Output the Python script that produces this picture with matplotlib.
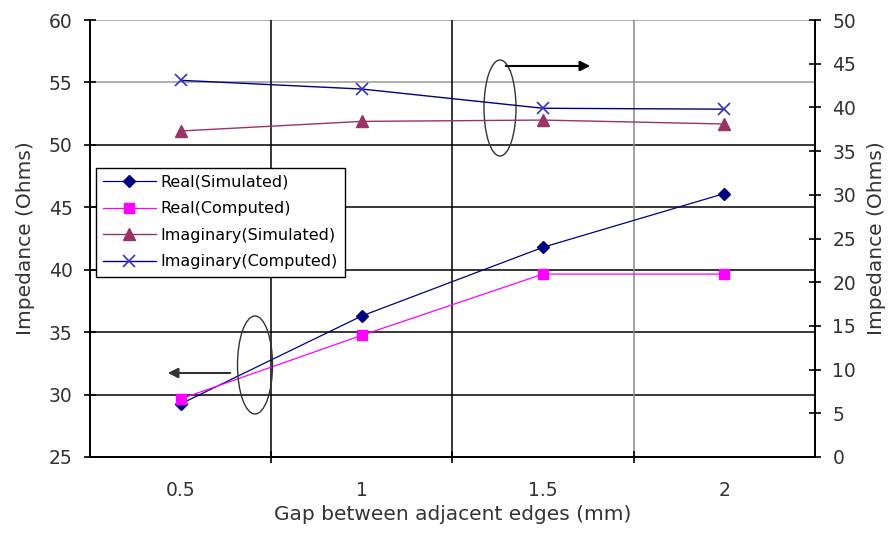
import numpy as np
import matplotlib
matplotlib.use("Agg")
import matplotlib.pyplot as plt
from matplotlib.patches import Ellipse
from matplotlib.lines import Line2D

plt.rcParams["font.family"] = ["DejaVu Sans"]

gaps = ["0.5", "1", "1.5", "2"]
real_sim = [29.25, 36.3, 41.8, 46.1]
real_comp = [29.65, 34.75, 39.65, 39.65]
imag_sim = [37.3, 38.4, 38.55, 38.1]
imag_comp = [43.1, 42.1, 39.9, 39.8]

x = np.arange(len(gaps))

fig = plt.figure(figsize=(8.92, 5.35), dpi=100)
ax = fig.add_axes((90 / 892, 1 - 457 / 535, 725 / 892, 437 / 535))
ax2 = ax.twinx()

# grid: horizontal at left ticks, vertical between categories
ax.set_ylim(25, 60)
ax.set_yticks(np.arange(25, 61, 5))
ax.set_xlim(-0.5, len(gaps) - 0.5)
ax.set_xticks(x)
ax.set_xticklabels(gaps)
ax.set_xticks(x[:-1] + 0.5, minor=True)
for yv in np.arange(30, 61, 5):
    c = "#999999" if yv >= 55 else "black"
    ax.axhline(yv, color=c, lw=1.1, zorder=0)
for i, xv in enumerate(x[:-1] + 0.5):
    c = "#888888" if i == 2 else "black"
    ax.axvline(xv, color=c, lw=1.1, zorder=0)

ax.plot(x, real_sim, color="#000080", lw=0.9, marker="D", ms=6,
        mfc="#000080", mec="#000080", zorder=3)
ax.plot(x, real_comp, color="#FF00FF", lw=0.9, marker="s", ms=7,
        mfc="#FF00FF", mec="#FF00FF", zorder=3)

ax2.set_ylim(0, 50)
ax2.set_yticks(np.arange(0, 51, 5))
ax2.plot(x, imag_sim, color="#993366", lw=1.0, marker="^", ms=8,
         mfc="#993366", mec="#993366", zorder=3)
ax2.plot(x, imag_comp, color="#000080", lw=1.0, marker="x", ms=9,
         mec="#3333CC", mew=1.2, zorder=3)

for a in (ax, ax2):
    a.spines["top"].set_visible(False)
    a.tick_params(axis="y", direction="inout", length=9, width=1.2, labelsize=13.5,
                  colors="black", labelcolor="#333333", pad=8)
    for s in a.spines.values():
        s.set_linewidth(1.3)
ax.tick_params(axis="x", which="major", length=0, labelsize=13.5, pad=17,
               labelcolor="#333333")
ax.tick_params(axis="x", which="minor", direction="inout", length=9, width=1.2)
ax2.tick_params(axis="x", which="both", length=0)

ax.set_ylabel("Impedance (Ohms)", fontsize=14.5, color="#333333", labelpad=10)
ax2.set_ylabel("Impedance (Ohms)", fontsize=14.5, color="#333333", labelpad=8)
ax.set_xlabel("Gap between adjacent edges (mm)", fontsize=14.5, color="#333333", labelpad=4)

# annotation ellipses and arrows
tr = ax.transAxes
ax.add_patch(Ellipse(((255 - 90) / 725, (457 - 365) / 437), 35 / 725, 98 / 437,
                     transform=tr, fill=False, ec="#333333", lw=1.0, zorder=4))
ax.annotate("", xy=((165 - 90) / 725, (457 - 373) / 437),
            xytext=((233 - 90) / 725, (457 - 373) / 437), xycoords=tr,
            arrowprops=dict(arrowstyle="-|>", color="#333333", lw=1.5, mutation_scale=15))
ax.add_patch(Ellipse(((500 - 90) / 725, (457 - 108) / 437), 32 / 725, 96 / 437,
                     transform=tr, fill=False, ec="#333333", lw=1.0, zorder=4))
ax.annotate("", xy=((593 - 90) / 725, (457 - 66) / 437),
            xytext=((503 - 90) / 725, (457 - 66) / 437), xycoords=tr,
            arrowprops=dict(arrowstyle="-|>", color="black", lw=1.5, mutation_scale=15))

handles = [
    Line2D([], [], color="#000080", lw=0.9, marker="D", ms=6, mfc="#000080", mec="#000080"),
    Line2D([], [], color="#FF00FF", lw=0.9, marker="s", ms=7, mfc="#FF00FF", mec="#FF00FF"),
    Line2D([], [], color="#993366", lw=1.0, marker="^", ms=8, mfc="#993366", mec="#993366"),
    Line2D([], [], color="#000080", lw=1.0, marker="x", ms=9, mec="#3333CC", mew=1.2),
]
labels = ["Real(Simulated)", "Real(Computed)", "Imaginary(Simulated)", "Imaginary(Computed)"]
leg = ax2.legend(handles, labels, loc="upper left", bbox_to_anchor=(0.008, 0.662),
                 fontsize=11.5, frameon=True, fancybox=False, framealpha=1,
                 edgecolor="black", handlelength=3.3, handletextpad=0.3,
                 labelspacing=0.72, borderpad=0.45, borderaxespad=0)
leg.get_frame().set_linewidth(1.0)
leg.set_zorder(10)

fig.savefig("out.png", dpi=100)
